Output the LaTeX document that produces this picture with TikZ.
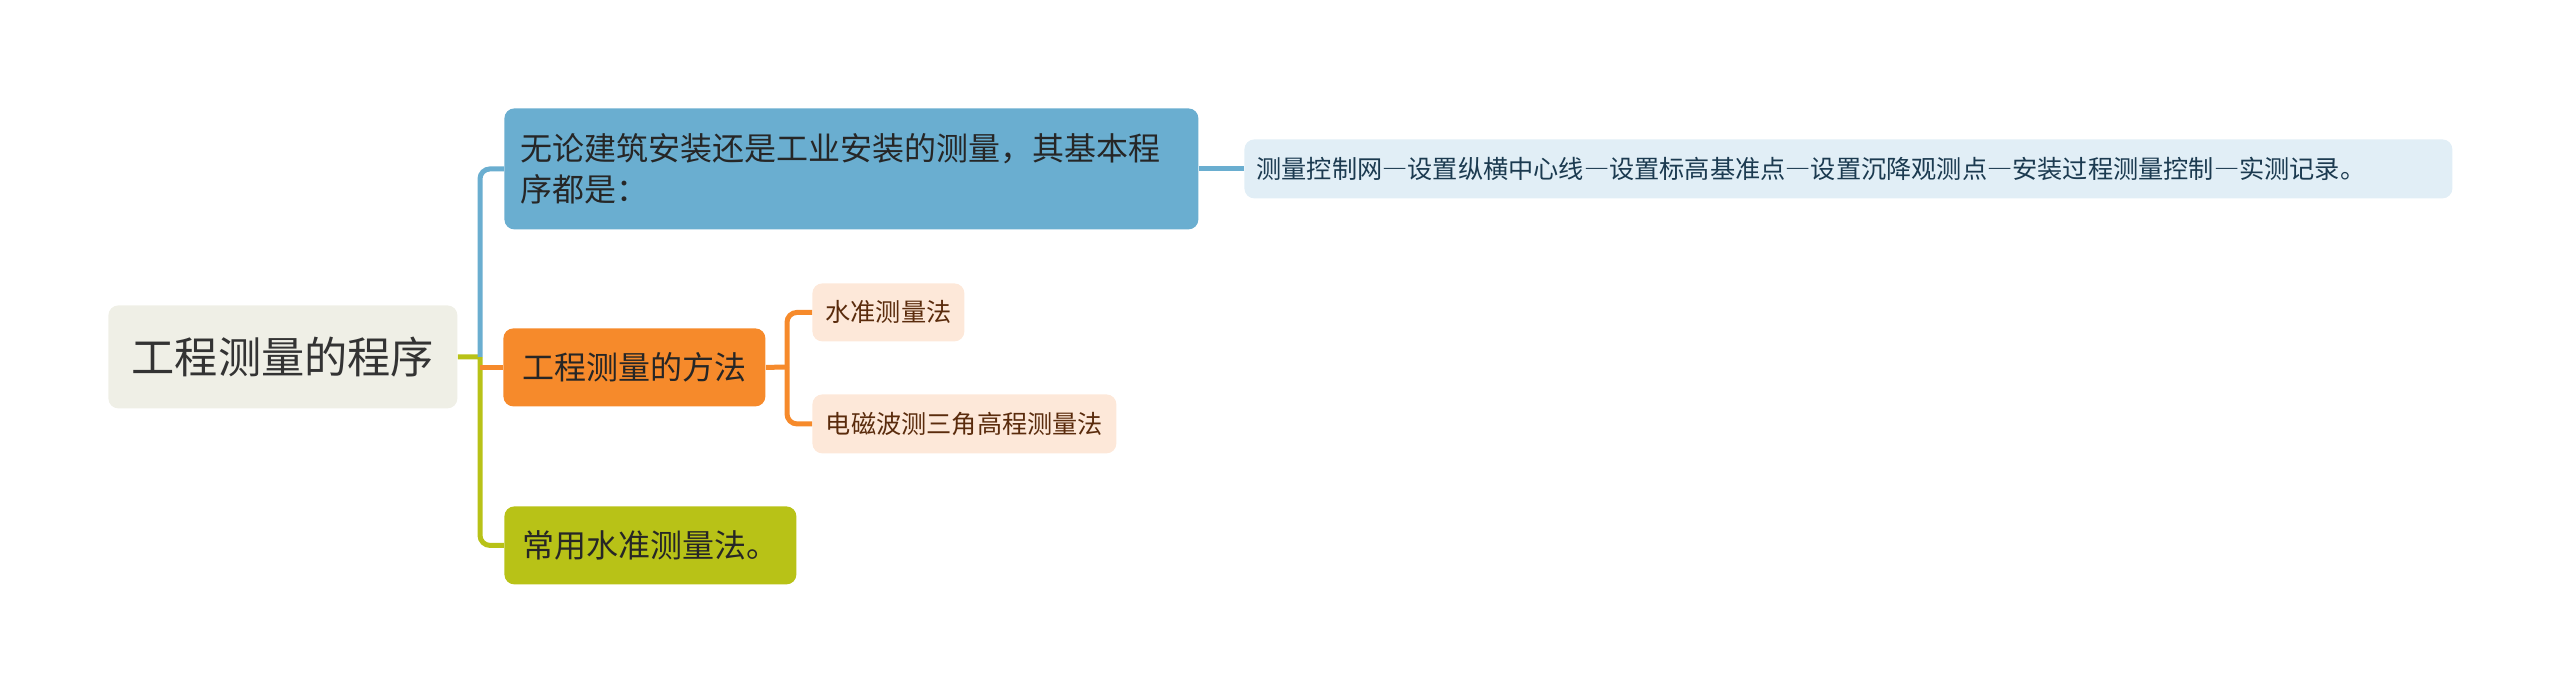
\documentclass[tikz,border=0pt]{standalone}
\usepackage{fontspec}
\setmainfont{Noto Sans CJK SC}
\newfontfamily\fwfont[RawFeature=+fwid]{Noto Sans CJK SC}
\newcommand{\longdash}{{\fwfont —}}
\definecolor{rootfill}{HTML}{EFEFE6}
\definecolor{bluefill}{HTML}{6AAED0}
\definecolor{procfill}{HTML}{E1EEF6}
\definecolor{orangefill}{HTML}{F68A2B}
\definecolor{greenfill}{HTML}{B8C217}
\definecolor{leaffill}{HTML}{FDE8D9}
\definecolor{leaftext}{HTML}{5A2B0C}
\definecolor{proctext}{HTML}{1B3A50}
\begin{document}
\begin{tikzpicture}[x=0.5pt, y=-0.5pt,
        box/.style={rounded corners=5pt, anchor=north west, inner sep=0pt},
        mainfont/.style={font=\fontsize{16}{20.5}\selectfont},
        leaffont/.style={font=\fontsize{12.6}{15}\selectfont},
        bluelink/.style={draw=bluefill, line width=2.5pt, rounded corners=5pt},
        orangelink/.style={draw=orangefill, line width=2.5pt, rounded corners=5pt},
        greenlink/.style={draw=greenfill, line width=2.5pt, rounded corners=5pt}]
        \useasboundingbox (0,0) rectangle (2560,692);

        \node[box, fill=rootfill, text=black!80, minimum width=174.5pt, minimum height=51.5pt,
              font=\fontsize{21.6}{25}\selectfont] (root) at (108,305) {工程测量的程序};

        \node[box, mainfont, fill=bluefill, text=black!85, minimum width=347pt, minimum height=60.5pt,
              inner xsep=8pt, text width=331pt, align=left] (basic) at (504,108)
              {无论建筑安装还是工业安装的测量，其基本程\\序都是：};
        \node[box, leaffont, fill=procfill, text=proctext, minimum width=604pt, minimum height=29.5pt,
              inner xsep=6pt, text width=592pt, align=left] (proc) at (1244,139)
              {测量控制网\longdash 设置纵横中心线\longdash 设置标高基准点\longdash 设置沉降观测点\longdash 安装过程测量控制\longdash 实测记录。};

        \node[box, mainfont, fill=orangefill, text=black!85, minimum width=131pt, minimum height=39pt] (method) at (503,328) {工程测量的方法};
        \node[box, leaffont, fill=leaffill, text=leaftext, minimum width=76pt, minimum height=29pt] (level) at (812,283) {水准测量法};
        \node[box, leaffont, fill=leaffill, text=leaftext, minimum width=152pt, minimum height=29.5pt] (wave) at (812,394) {电磁波测三角高程测量法};

        \node[box, mainfont, fill=greenfill, text=black!85, minimum width=146pt, minimum height=39pt] (common) at (504,506) {常用水准测量法。};

        % branches
        \coordinate (fork) at (480,357);
        \coordinate (subfork) at (787,367);
        \draw[greenlink] (root.east) -- (fork);
        \draw[bluelink] (fork) |- (basic.west);
        \draw[bluelink] (basic.east) -- (proc.west);
        \draw[greenlink] (fork) |- (common.west);
        \draw[orangelink] (fork |- method.west) -- (method.west);
        \draw[orangelink] (method.east) -- (subfork);
        \draw[orangelink] (subfork) |- (level.west);
        \draw[orangelink] (subfork) |- (wave.west);
    \end{tikzpicture}
\end{document}
